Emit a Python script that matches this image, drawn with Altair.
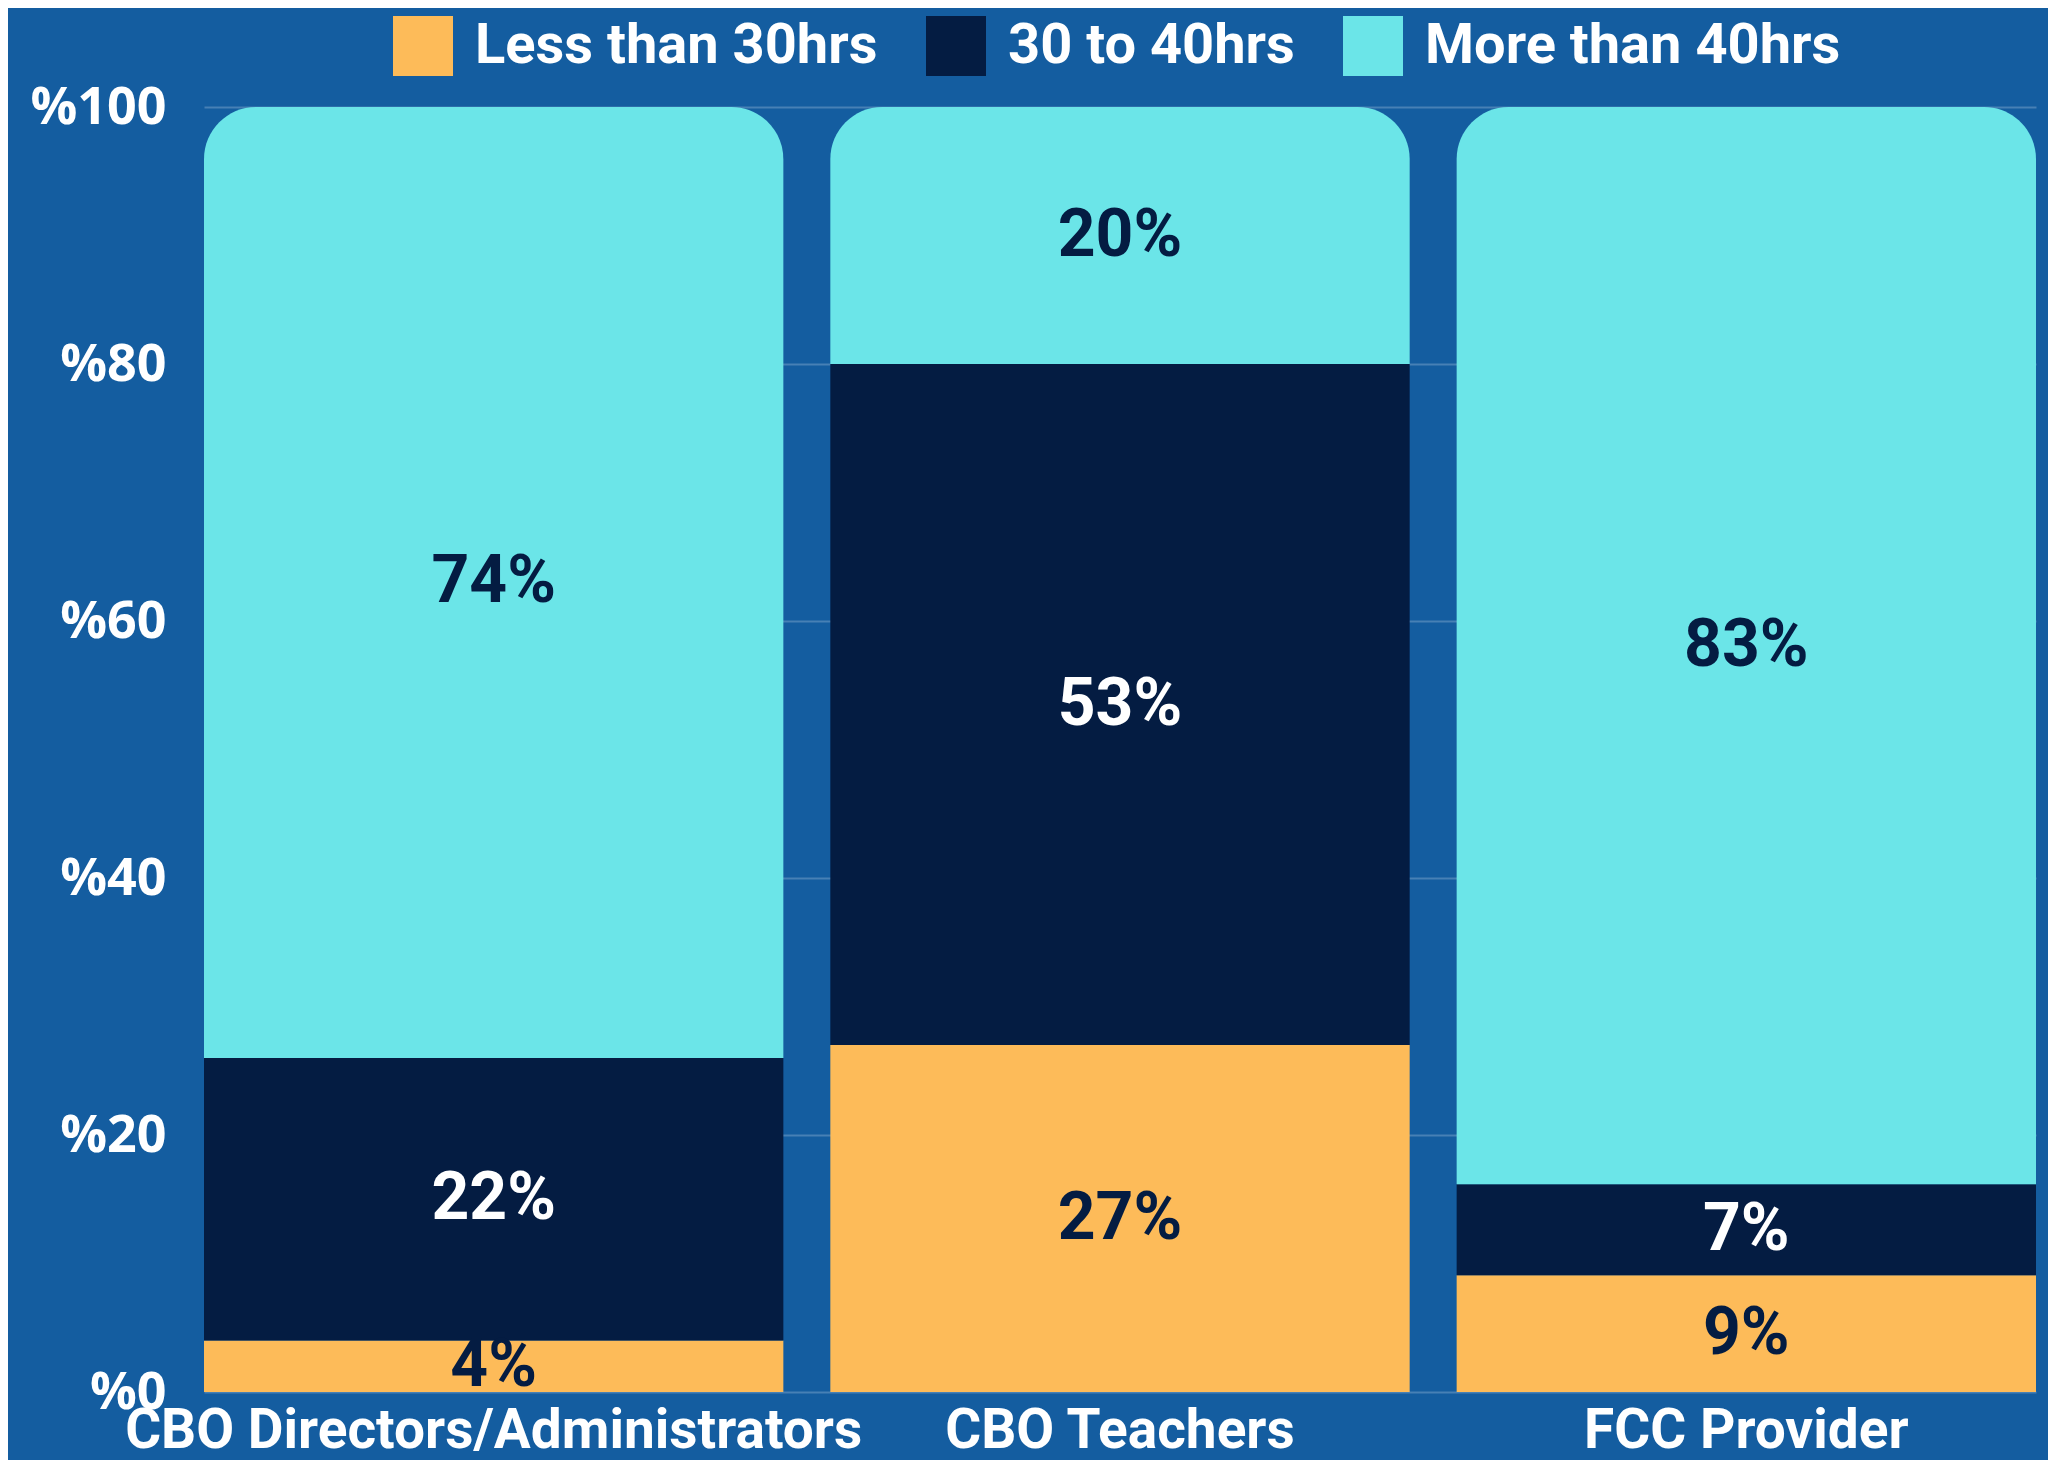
import altair as alt
import pandas as pd

# ---- data ----
groups = ["CBO Directors/Administrators", "CBO Teachers", "FCC Provider"]
hours = ["Less than 30hrs", "30 to 40hrs", "More than 40hrs"]
less_than_30 = [4, 27, 9]
from_30_to_40 = [22, 53, 7]
more_than_40 = [74, 20, 83]
y_ticks = [0, 20, 40, 60, 80, 100]

colors = ["#FDBB59", "#041C42", "#6BE5E8"]
bg = "#145DA0"

rows = []
for i, g in enumerate(groups):
    for k, (h, series) in enumerate(zip(hours, [less_than_30, from_30_to_40, more_than_40])):
        rows.append({"group": g, "hours": h, "order": k, "value": series[i],
                     "label": f"{series[i]}%"})
df = pd.DataFrame(rows)

FONT = "Roboto"

x_enc = alt.X("group:N", sort=groups, title=None,
              scale=alt.Scale(paddingInner=0.075, paddingOuter=0),
              axis=alt.Axis(labelAngle=0, ticks=False, domain=False, labelFontSize=55,
                            labelFont=FONT, labelFontWeight="bold", labelColor="white",
                            labelPadding=12, labelLimit=1200, grid=False))
y_scale = alt.Scale(domain=[0, 1], nice=False)
y_enc = alt.Y("y0:Q", scale=y_scale, title=None,
              axis=alt.Axis(values=[v / 100 for v in y_ticks],
                            labelExpr="'%' + round(datum.value * 100)",
                            ticks=False, domain=False, grid=True,
                            gridColor="white", gridOpacity=0.22, gridWidth=2,
                            labelFontSize=52, labelFont="Open Sans", labelFontWeight="bold",
                            labelColor="white", labelPadding=38))
color_enc = alt.Color("hours:N",
                      scale=alt.Scale(domain=hours, range=colors),
                      legend=alt.Legend(title=None, orient="none", legendX=189, legendY=-91,
                                        direction="horizontal", symbolType="square",
                                        symbolSize=3600, symbolStrokeWidth=0,
                                        symbolOpacity=1,
                                        labelFontSize=56, labelFont=FONT,
                                        labelFontWeight="bold", labelColor="white",
                                        labelOffset=22, columnPadding=48, labelLimit=600))

base = alt.Chart(df).transform_stack(
    stack="value", groupby=["group"], as_=["y0", "y1"],
    sort=[alt.SortField("order", order="ascending")], offset="normalize"
)

lower = base.transform_filter("datum.order < 2").mark_bar().encode(
    x=x_enc, y=y_enc, y2="y1:Q", color=color_enc)

top = base.transform_filter("datum.order == 2").mark_bar(
    cornerRadiusTopLeft=52, cornerRadiusTopRight=52).encode(
    x=x_enc, y=y_enc, y2="y1:Q", color=color_enc)

text = base.transform_calculate(mid="(datum.y0 + datum.y1) / 2").mark_text(
    fontSize=66, font=FONT, fontWeight="bold", baseline="middle", align="center"
).encode(
    x=alt.X("group:N", sort=groups),
    y=alt.Y("mid:Q", scale=y_scale),
    text="label:N",
    color=alt.condition("datum.order == 1", alt.value("white"), alt.value("#041C42")),
)

chart = alt.layer(lower, top, text).properties(
    width=1832, height=1285,
    autosize=alt.AutoSizeParams(type="none"),
    padding={"left": 196, "top": 99, "right": 12, "bottom": 68},
    background=bg,
).configure_view(stroke=None)

chart.save("out.html", embed_options={"renderer": "svg", "actions": False})
